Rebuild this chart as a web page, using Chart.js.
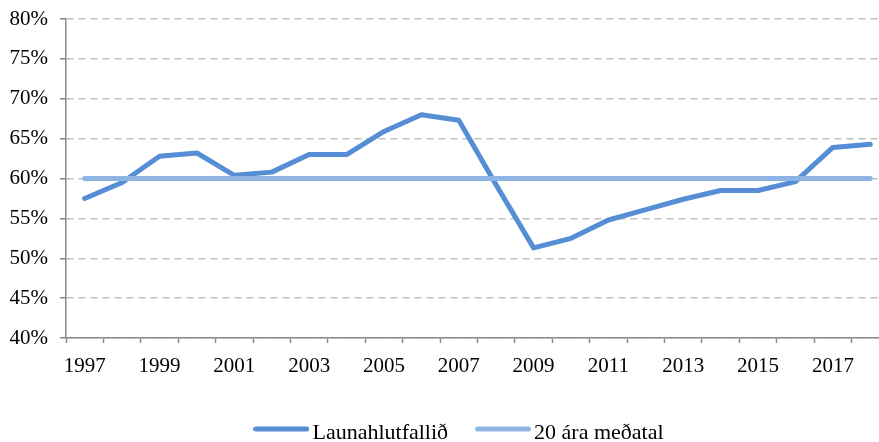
<!DOCTYPE html>
<html>
<head>
<meta charset="utf-8">
<script src="https://cdn.jsdelivr.net/npm/chart.js@4"></script>
<style>
  html, body { margin: 0; padding: 0; background: #fff; overflow: hidden; }
  #wrap { width: 915px; height: 442px; }
</style>
</head>
<body>
<div id="wrap"><canvas id="line-chart" width="915" height="442"></canvas></div>
<script>
// data
const years = ["1997", "1998", "1999", "2000", "2001", "2002", "2003", "2004", "2005", "2006", "2007",
  "2008", "2009", "2010", "2011", "2012", "2013", "2014", "2015", "2016", "2017", "2018"];
const wageShare = [57.5, 59.5, 62.8, 63.2, 60.4, 60.8, 63.0, 63.0, 65.9, 68.0, 67.3,
  59.2, 51.3, 52.5, 54.8, 56.1, 57.4, 58.5, 58.5, 59.6, 63.9, 64.3];
const avg20 = [60, 60, 60, 60, 60, 60, 60, 60, 60, 60, 60,
  60, 60, 60, 60, 60, 60, 60, 60, 60, 60, 60];
const yTicks = [40, 45, 50, 55, 60, 65, 70, 75, 80];

const serif = "'Liberation Serif', 'Times New Roman', serif";
const axisGrey = "#898989";
const mainBlue = "#558ED5";
const lightBlue = "#8DB4E2";

// little line swatch for the legend (wider than the legend box so text sits close)
function swatch(color) {
  const c = document.createElement("canvas");
  c.width = 56;
  c.height = 20;
  const g = c.getContext("2d");
  g.strokeStyle = color;
  g.lineWidth = 5;
  g.lineCap = "round";
  g.beginPath();
  g.moveTo(2.5, 6);
  g.lineTo(53.5, 6);
  g.stroke();
  return c;
}

// nudge the legend to where it sits in the original
const legendNudge = {
  id: "legendNudge",
  afterLayout(chart) {
    const lg = chart.legend;
    lg.left += 18;
    lg.right += 18;
    const h = lg.bottom - lg.top;
    lg.top = 387;
    lg.bottom = lg.top + h;
  }
};

const config = {
  type: "line",
  data: {
    labels: years,
    datasets: [
      {
        label: "Launahlutfallið",
        data: wageShare,
        borderColor: mainBlue,
        backgroundColor: mainBlue,
        borderWidth: 5,
        borderCapStyle: "round",
        borderJoinStyle: "round",
        pointRadius: 0,
        pointStyle: swatch(mainBlue),
        tension: 0,
        order: 1,
      }, {
        label: "20 ára meðatal",
        data: avg20,
        borderColor: lightBlue,
        backgroundColor: lightBlue,
        borderWidth: 5,
        borderCapStyle: "round",
        pointRadius: 0,
        pointStyle: swatch(lightBlue),
        order: 0,
      }
    ]
  },
  plugins: [legendNudge],
  options: {
    responsive: false,
    animation: false,
    layout: { padding: { left: 0, right: 26, top: 19, bottom: 0 } },
    plugins: {
      tooltip: { enabled: false },
      legend: {
        position: "bottom",
        labels: {
          usePointStyle: true,
          pointStyleWidth: 40,
          color: "#000",
          font: { family: serif, size: 22 },
          padding: 35,
          sort: (a, b) => a.datasetIndex - b.datasetIndex,
        }
      }
    },
    scales: {
      x: {
        type: "category",
        offset: true,
        afterFit: (s) => { s.height = 37; },
        grid: {
          offset: true,
          drawOnChartArea: false,
          drawTicks: true,
          tickLength: 5,
          tickColor: axisGrey,
          tickWidth: 1.5,
        },
        border: { color: axisGrey, width: 1.5 },
        ticks: {
          autoSkip: false,
          maxRotation: 0,
          color: "#000",
          font: { family: serif, size: 21 },
          padding: 11,
          callback: function (value, index) {
            return index % 2 === 0 ? this.getLabelForValue(value) : "";
          }
        }
      },
      y: {
        min: 40,
        max: 80,
        afterFit: (s) => {
          s.width = 66;
          s.paddingTop = 0;
          s.paddingBottom = 0;
        },
        afterBuildTicks: (s) => { s.ticks = yTicks.map(v => ({ value: v })); },
        grid: {
          color: "#BFBFBF",
          lineWidth: 1.5,
          tickLength: 6,
          tickColor: axisGrey,
          tickWidth: 1.5,
          tickBorderDash: [],
        },
        border: { color: axisGrey, width: 1.5, dash: [7, 5] },
        ticks: {
          color: "#000",
          font: { family: serif, size: 21 },
          padding: 12,
          callback: (v) => v + "%",
        }
      }
    }
  }
};

const chart = new Chart(document.getElementById("line-chart").getContext("2d"), config);
</script>
</body>
</html>
